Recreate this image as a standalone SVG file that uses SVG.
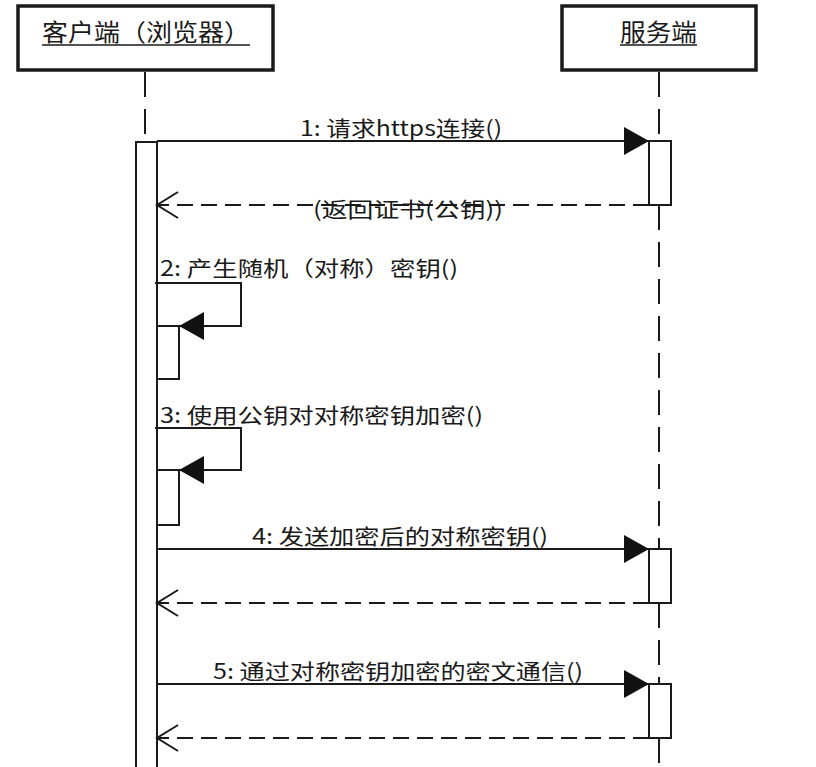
<svg xmlns="http://www.w3.org/2000/svg" width="816" height="767" viewBox="0 0 816 767">
<defs>
<style>
.t{font-family:"Noto Sans CJK SC","Liberation Sans",sans-serif;fill:#1a1a1a;}
.hdr{font-size:24px;}
.lbl{font-size:21px;}
.box{fill:#fff;stroke:#1a1a1a;stroke-width:3.5;}
.act{fill:#fff;stroke:#1a1a1a;stroke-width:2;}
.life{fill:none;stroke:#1a1a1a;stroke-width:2;stroke-dasharray:25 12;}
.msg{fill:none;stroke:#1a1a1a;stroke-width:2;}
.ret{fill:none;stroke:#1a1a1a;stroke-width:2;stroke-dasharray:16 8;}
.ul{stroke:#1a1a1a;stroke-width:1.5;}
</style>
<marker id="fill" markerUnits="userSpaceOnUse" markerWidth="26" markerHeight="30" viewBox="0 0 26 30" refX="25" refY="15" orient="auto">
<path d="M0,1 L25,15 L0,29 Z" fill="#111"/>
</marker>
<marker id="open" markerUnits="userSpaceOnUse" markerWidth="24" markerHeight="30" viewBox="0 0 24 30" refX="22" refY="15" orient="auto">
<path d="M1,2 L22,15 L1,28" fill="none" stroke="#1a1a1a" stroke-width="2"/>
</marker>
</defs>
<rect width="816" height="767" fill="#fff"/>

<g id="lifelines">
<line class="life" x1="145" y1="72" x2="145" y2="141"/>
<line class="life" x1="659" y1="72" x2="659" y2="141"/>
<line class="life" x1="659" y1="205" x2="659" y2="549"/>
<line class="life" x1="659" y1="603" x2="659" y2="684"/>
<line class="life" x1="659" y1="738" x2="659" y2="767"/>
</g>

<g id="client">
<rect class="box" x="18" y="6" width="255" height="64"/>
<text class="t hdr" x="42" y="41" textLength="208" lengthAdjust="spacingAndGlyphs">客户端（浏览器）</text>
<line class="ul" x1="42" y1="45" x2="250" y2="45"/>
</g>

<g id="server">
<rect class="box" x="562" y="6" width="194" height="64"/>
<text class="t hdr" x="620" y="41" textLength="77" lengthAdjust="spacingAndGlyphs">服务端</text>
<line class="ul" x1="620" y1="45" x2="697" y2="45"/>
</g>

<g id="activations">
<rect class="act" x="136" y="142" width="21" height="640"/>
<rect class="act" x="649" y="141" width="22" height="64"/>
<rect class="act" x="649" y="549" width="22" height="54"/>
<rect class="act" x="649" y="684" width="22" height="54"/>
<rect class="act" x="157" y="326" width="22" height="53"/>
<rect class="act" x="157" y="470" width="22" height="55"/>
</g>

<g id="connectors">
<line class="msg" x1="157" y1="141" x2="649" y2="141" marker-end="url(#fill)"/>
<line class="ret" x1="649" y1="205" x2="157" y2="205" marker-end="url(#open)"/>
<polyline class="msg" points="155,283 241,283 241,326 179,326" marker-end="url(#fill)"/>
<polyline class="msg" points="155,428 241,428 241,470 179,470" marker-end="url(#fill)"/>
<line class="msg" x1="157" y1="549" x2="649" y2="549" marker-end="url(#fill)"/>
<line class="ret" x1="649" y1="603" x2="157" y2="603" marker-end="url(#open)"/>
<line class="msg" x1="157" y1="684" x2="649" y2="684" marker-end="url(#fill)"/>
<line class="ret" x1="649" y1="738" x2="157" y2="738" marker-end="url(#open)"/>
</g>

<g id="labels">
<text class="t lbl" x="300" y="136" textLength="202" lengthAdjust="spacingAndGlyphs">1: 请求https连接()</text>
<text class="t lbl" x="313" y="217" textLength="190" lengthAdjust="spacingAndGlyphs">(返回证书(公钥))</text>
<text class="t lbl" x="160" y="276" textLength="298" lengthAdjust="spacingAndGlyphs">2: 产生随机（对称）密钥()</text>
<text class="t lbl" x="160" y="423" textLength="323" lengthAdjust="spacingAndGlyphs">3: 使用公钥对对称密钥加密()</text>
<text class="t lbl" x="252" y="544" textLength="296" lengthAdjust="spacingAndGlyphs">4: 发送加密后的对称密钥()</text>
<text class="t lbl" x="213" y="679" textLength="370" lengthAdjust="spacingAndGlyphs">5: 通过对称密钥加密的密文通信()</text>
</g>
</svg>
